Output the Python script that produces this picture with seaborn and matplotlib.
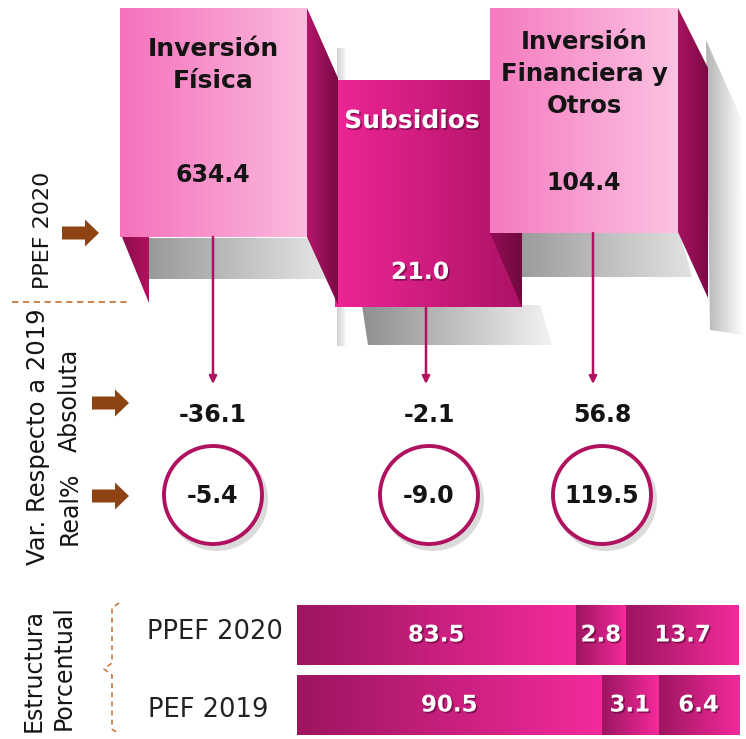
import matplotlib
matplotlib.use("Agg")
import matplotlib.patheffects as pe
import matplotlib.pyplot as plt
import numpy as np
import pandas as pd
import seaborn as sns
from matplotlib.colors import LinearSegmentedColormap
from matplotlib.patches import Circle, FancyArrow, Polygon


W, H = 746, 739

# datos
COMPONENTES = ["Inversión Física", "Subsidios", "Inversión Financiera y Otros"]
TITULOS = ["Inversión\nFísica", "Subsidios", "Inversión\nFinanciera y\nOtros"]
PPEF_2020 = [634.4, 21.0, 104.4]
VAR_ABSOLUTA = [-36.1, -2.1, 56.8]
VAR_REAL = [-5.4, -9.0, 119.5]
FILAS = ["PPEF 2020", "PEF 2019"]
ESTRUCTURA_2020 = [83.5, 2.8, 13.7]
ESTRUCTURA_2019 = [90.5, 3.1, 6.4]

# maquetacion (pixeles)
CARAS = [(120, 8, 307, 237), (335, 80, 522, 307), (490, 8, 678, 233)]
TITULO_XY = [(213, 65), (412, 121), (584, 74)]
VALOR_XY = [(213, 175), (420, 272), (584, 183)]
TALLO_X = [213, 426, 593]
COL_X = [213, 429, 602]
ABS_Y, REAL_Y = 415, 495

INK = "#141414"
MAGENTA = "#b0125f"
BROWN = "#8e4412"
DASH = "#c8783e"


def degradado(ax, verts, c0, c1, vertical=False, zorder=1.0):
    verts = np.asarray(verts, float)
    patch = Polygon(verts, closed=True, facecolor="none", edgecolor="none", zorder=zorder)
    ax.add_patch(patch)
    cmap = LinearSegmentedColormap.from_list("g", [c0, c1])
    ramp = np.linspace(0, 1, 256)
    img = ramp[:, None] if vertical else ramp[None, :]
    x0, y0 = verts.min(axis=0)
    x1, y1 = verts.max(axis=0)
    im = ax.imshow(img, cmap=cmap, extent=(x0, x1, y1, y0), aspect="auto",
                   zorder=zorder, interpolation="bilinear")
    im.set_clip_path(patch)


def caja(x0, y0, x1, y1):
    return [(x0, y0), (x1, y0), (x1, y1), (x0, y1)]


sns.set_theme(style="white")
plt.rcParams["font.family"] = ["DejaVu Sans"]

fig = plt.figure(figsize=(W / 100, H / 100), dpi=100)
ax = fig.add_axes([0, 0, 1, 1])
ax.set_xlim(0, W)
ax.set_ylim(H, 0)
ax.set_autoscale_on(False)
ax.axis("off")

# sombras grises
degradado(ax, [(706, 40), (742, 120), (744, 335), (710, 330)], "#b5b5b5", "#ffffff", zorder=1)
degradado(ax, [(148, 238), (335, 238), (335, 279), (148, 279)], "#999999", "#e9e9e9", zorder=1)
degradado(ax, [(362, 305), (540, 305), (552, 345), (368, 345)], "#8f8f8f", "#f2f2f2", zorder=1)
degradado(ax, [(522, 233), (680, 233), (692, 277), (522, 277)], "#9c9c9c", "#e2e2e2", zorder=1)
degradado(ax, [(337, 48), (347, 48), (347, 346), (337, 346)], "#d0d0d0", "#ffffff", zorder=1)

# Subsidios (detras)
degradado(ax, caja(*CARAS[1]), "#ee2596", "#ad1265", zorder=2)
degradado(ax, [(490, 80), (522, 80), (522, 307), (490, 233)], "#960d55", "#6f0a3f", zorder=2.5)

# Inversion Fisica
degradado(ax, [(307, 8), (338, 78), (338, 305), (307, 237)], "#b3166a", "#7a0a44", zorder=3)
degradado(ax, [(122, 237), (149, 237), (149, 303)], "#8a0c4d", "#b0135f", zorder=3)
degradado(ax, caja(*CARAS[0]), "#f571bc", "#fbbadd", zorder=4)

# Inversion Financiera y Otros
degradado(ax, [(678, 8), (708, 68), (708, 298), (678, 232)], "#a8135f", "#7c0946", zorder=4)
degradado(ax, caja(*CARAS[2]), "#f57abf", "#fcc2e2", zorder=4)

sombra_blanca = [pe.withSimplePatchShadow(offset=(1.2, -1.2), shadow_rgbFace="#4a0028", alpha=0.55)]

for i, nombre in enumerate(TITULOS):
    blanco = i == 1
    color = "white" if blanco else INK
    efectos = sombra_blanca if blanco else None
    tx, ty = TITULO_XY[i]
    ax.text(tx, ty, nombre, ha="center", va="center", fontsize=18 if i != 2 else 17.5,
            fontweight="bold", color=color, linespacing=1.4, zorder=6, path_effects=efectos)
    vx, vy = VALOR_XY[i]
    ax.text(vx, vy, f"{PPEF_2020[i]:.1f}", ha="center", va="center", fontsize=17,
            fontweight="bold", color=color, zorder=6, path_effects=efectos)
    # tallo con flecha
    ax.annotate("", xy=(TALLO_X[i], 384), xytext=(TALLO_X[i], CARAS[i][3]),
                arrowprops=dict(arrowstyle="-|>", color=MAGENTA, lw=1.8, mutation_scale=11,
                                shrinkA=0, shrinkB=0), zorder=5)

# variaciones
for i in range(3):
    ax.text(COL_X[i], ABS_Y, f"{VAR_ABSOLUTA[i]:.1f}", ha="center", va="center",
            fontsize=17, fontweight="bold", color=INK)
    ax.add_patch(Circle((COL_X[i] + 4, REAL_Y + 5), 51, facecolor="#c4c4c4", edgecolor="none",
                        alpha=0.6, zorder=2))
    ax.add_patch(Circle((COL_X[i], REAL_Y), 49, facecolor="white", edgecolor=MAGENTA,
                        lw=2.8, zorder=3))
    ax.text(COL_X[i], REAL_Y + 1, f"{VAR_REAL[i]:.1f}", ha="center", va="center",
            fontsize=17, fontweight="bold", color=INK, zorder=4)

# flechas cafes
for x0, y0 in [(62, 233), (92, 403), (92, 496)]:
    ax.add_patch(FancyArrow(x0, y0, 23, 0, width=13, head_width=27, head_length=14,
                            length_includes_head=False, color=BROWN, lw=0, zorder=3))

# textos laterales
ax.text(43, 230, "PPEF 2020", rotation=90, ha="center", va="center", fontsize=16, color=INK)
ax.plot([12, 128], [302, 302], color=DASH, lw=1.3, dashes=(3.5, 2.5))
ax.text(38, 437, "Var. Respecto a 2019", rotation=90, ha="center", va="center",
        fontsize=17.5, color=INK)
ax.text(70, 400, "Absoluta", rotation=90, ha="center", va="center", fontsize=17, color=INK)
ax.text(70, 508, "Real%", rotation=90, ha="center", va="center", fontsize=17, color=INK)
ax.text(34, 671, "Estructura", rotation=90, ha="center", va="center", fontsize=17, color=INK)
ax.text(64, 668, "Porcentual", rotation=90, ha="center", va="center", fontsize=17, color=INK)

llave_x = [119, 112, 112, 104, 112, 112, 119]
llave_y = [603, 608, 663, 669, 675, 729, 734]
ax.plot(llave_x, llave_y, color=DASH, lw=1.2, dashes=(3, 2.5))

ax.text(215, 632, FILAS[0], ha="center", va="center", fontsize=18.5, color="#222222")
ax.text(208, 710, FILAS[1], ha="center", va="center", fontsize=18.5, color="#222222")

# estructura porcentual (anchos en escala raiz)
estructura = pd.DataFrame({
    "fila": np.repeat(FILAS, 3),
    "componente": COMPONENTES * 2,
    "porcentaje": ESTRUCTURA_2020 + ESTRUCTURA_2019,
})
estructura["ancho"] = np.sqrt(estructura["porcentaje"])
estructura["ancho"] = estructura["ancho"] / estructura.groupby("fila")["ancho"].transform("sum") * 100
estructura["derecha"] = estructura.groupby("fila")["ancho"].cumsum()
estructura["izquierda"] = estructura["derecha"] - estructura["ancho"]

bax = fig.add_axes([297 / W, 1 - 740 / H, 442 / W, 140 / H])
for comp in reversed(COMPONENTES):
    sub = estructura[estructura["componente"] == comp]
    n0 = len(bax.patches)
    sns.barplot(data=sub, x="derecha", y="fila", order=FILAS, orient="h", width=0.85,
                errorbar=None, color="#d01f80", ax=bax)
    for patch in bax.patches[n0:]:
        fila = FILAS[int(round(patch.get_y() + patch.get_height() / 2))]
        row = sub[sub["fila"] == fila].iloc[0]
        patch.set_x(row["izquierda"])
        patch.set_width(row["ancho"])
        x0, y0 = patch.get_x(), patch.get_y()
        x1, y1 = x0 + patch.get_width(), y0 + patch.get_height()
        cmap = LinearSegmentedColormap.from_list("b", ["#9c1560", "#f42a9c"])
        im = bax.imshow(np.linspace(0, 1, 256)[None, :], cmap=cmap, extent=(x0, x1, y1, y0),
                        aspect="auto", zorder=patch.get_zorder() + 0.1, interpolation="bilinear")
        im.set_clip_path(patch)
        bax.text((x0 + x1) / 2, (y0 + y1) / 2, f"{row['porcentaje']:.1f}", ha="center",
                 va="center", fontsize=16.5, fontweight="bold", color="white", zorder=5,
                 path_effects=sombra_blanca)

bax.set_xlim(0, 100)
bax.set_ylim(1.5, -0.5)
bax.axis("off")

fig.savefig("out.png", dpi=100)
